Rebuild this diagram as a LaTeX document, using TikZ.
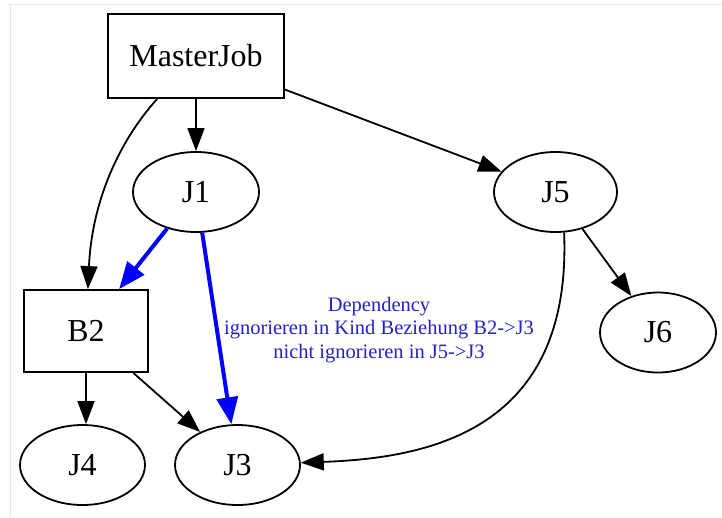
\documentclass[tikz,border=0pt]{standalone}
\usepackage{fontspec}
\setmainfont{Liberation Serif}
\usetikzlibrary{arrows.meta,shapes.geometric}
\definecolor{lbl}{RGB}{35,35,195}
\definecolor{framegray}{RGB}{232,232,232}
\begin{document}
\begin{tikzpicture}[x=1pt,y=-1pt,
  box/.style={draw, line width=1.8pt, rectangle, inner sep=0pt, font=\fontsize{32}{38}\selectfont},
  oval/.style={draw, line width=1.8pt, ellipse, inner sep=0pt, minimum width=126pt, minimum height=80pt, font=\fontsize{32}{38}\selectfont},
  edge/.style={line width=1.8pt, -{Triangle[length=23pt,width=17pt]}},
  dep/.style={line width=4pt, blue, -{Triangle[length=27pt,width=21pt]}}]
\useasboundingbox[fill=white] (0,0) rectangle (722,517);
\draw[framegray, line width=1.5pt] (8,4.5) -- (722,4.5);
\draw[framegray, line width=1.5pt] (10.5,4) -- (10.5,517);

\node[box, minimum width=176pt, minimum height=84pt] (mj) at (196,56) {MasterJob};
\node[oval] (j1) at (196,192) {J1};
\node[oval, minimum width=123pt] (j5) at (555.5,192) {J5};
\node[box, minimum width=124pt, minimum height=82pt] (b2) at (86,331) {B2};
\node[oval, minimum width=116pt] (j6) at (658,332.5) {J6};
\node[oval, minimum width=125pt] (j4) at (82.5,465) {J4};
\node[oval, minimum width=125pt] (j3) at (237.5,465) {J3};
\node[text=lbl, align=center, font=\fontsize{20.5}{23.5}\selectfont] (lab) at (379,330)
  {Dependency\\ignorieren in Kind Beziehung B2->J3\\nicht ignorieren in J5->J3};

\draw[edge] (mj) -- (j1);
\draw[edge] (mj) .. controls (120,140) and (92,200) .. (b2);
\draw[edge] (mj) -- (j5);
\draw[dep] (j1) -- (b2);
\draw[dep] (j1) -- (j3);
\draw[edge] (j5) -- (j6);
\draw[edge] (j5.-78) .. controls (572,430) and (430,458) .. (j3);
\draw[edge] (b2) -- (b2 |- j4.north);
\draw[edge] (b2) -- (j3);
\end{tikzpicture}
\end{document}
